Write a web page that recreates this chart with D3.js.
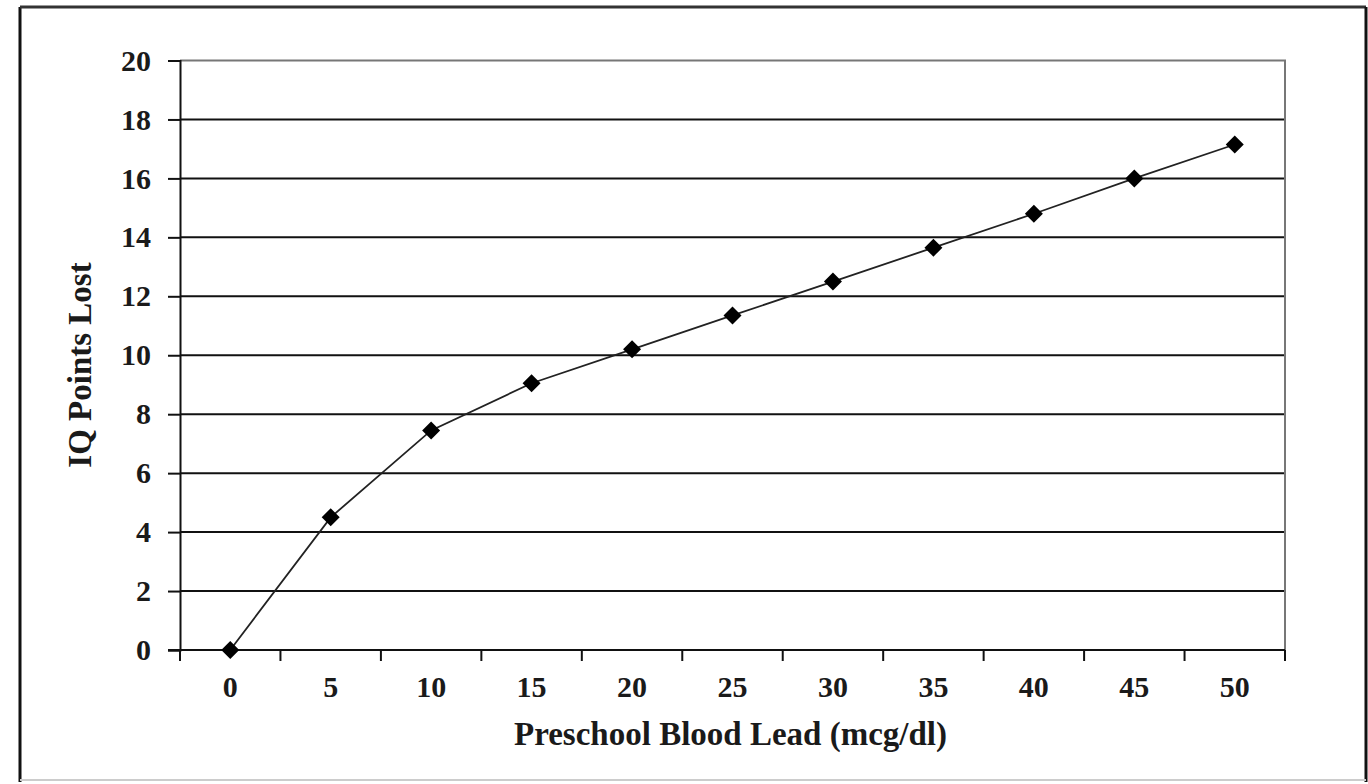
<!DOCTYPE html>
<html>
<head>
<meta charset="utf-8">
<script src="https://cdn.jsdelivr.net/npm/d3@7"></script>
<style>
  body { margin:0; background:#fff; }
  text { font-family:"Liberation Serif","Times New Roman",serif; font-weight:bold; fill:#1a1a1a; }
</style>
</head>
<body>
<div id="chart"></div>
<script>
// data
var leadLevels = ["0","5","10","15","20","25","30","35","40","45","50"];
var iqLost = [0, 4.5, 7.45, 9.05, 10.2, 11.35, 12.5, 13.65, 14.8, 16.0, 17.15];
var yTicks = [0,2,4,6,8,10,12,14,16,18,20];

var W = 1368, H = 784;
var margin = {top:60.5, left:180, right:83, bottom:134};

var svg = d3.select("#chart").append("svg")
	.attr("width", W)
	.attr("height", H);

// outer frame
svg.append("line").attr("x1",20).attr("x2",20).attr("y1",7).attr("y2",782)
	.attr("stroke","#111").attr("stroke-width",3);
svg.append("line").attr("x1",20).attr("x2",1366).attr("y1",7).attr("y2",7)
	.attr("stroke","#333").attr("stroke-width",3);
svg.append("line").attr("x1",1366).attr("x2",1366).attr("y1",7).attr("y2",782)
	.attr("stroke","#111").attr("stroke-width",3);
svg.append("line").attr("x1",20).attr("x2",1366).attr("y1",780).attr("y2",780)
	.attr("stroke","#ccc").attr("stroke-width",2);

var x = d3.scaleBand()
	.domain(leadLevels)
	.range([margin.left, W - margin.right])
	.padding(0);

var y = d3.scaleLinear()
	.domain([0, 20])
	.range([H - margin.bottom, margin.top]);

var x0 = margin.left, x1 = W - margin.right;

// gridlines
svg.append("g").selectAll("line")
	.data(yTicks.filter(function(d){ return d > 0 && d < 20; }))
	.enter().append("line")
	.attr("x1", x0).attr("x2", x1)
	.attr("y1", function(d){ return y(d); })
	.attr("y2", function(d){ return y(d); })
	.attr("stroke", "#111")
	.attr("stroke-width", 2);

// plot border top / right (grey)
svg.append("path")
	.attr("d", "M" + x0 + "," + y(20) + "H" + x1 + "V" + y(0))
	.attr("fill", "none")
	.attr("stroke", "#777")
	.attr("stroke-width", 2);

// y axis
var yAxis = svg.append("g")
	.attr("transform", "translate(" + x0 + ",0)")
	.call(d3.axisLeft(y).tickValues(yTicks).tickSize(12).tickPadding(17));
yAxis.selectAll("line").attr("stroke","#111").attr("stroke-width",2);
yAxis.select(".domain").attr("stroke","#111").attr("stroke-width",2);
yAxis.selectAll("text").attr("font-size", 30).attr("font-family", null).attr("fill", "#1a1a1a");

// x axis: labels centred in bands, ticks on band edges
var xAxis = svg.append("g")
	.attr("transform", "translate(0," + y(0) + ")")
	.call(d3.axisBottom(x).tickSize(0).tickPadding(26));
xAxis.select(".domain").remove();
xAxis.selectAll("text").attr("font-size", 30).attr("font-family", null).attr("fill", "#1a1a1a");

svg.append("line")
	.attr("x1", x0 - 12).attr("x2", x1)
	.attr("y1", y(0)).attr("y2", y(0))
	.attr("stroke", "#111").attr("stroke-width", 2);

var edges = leadLevels.map(function(d){ return x(d); }).concat([x1]);
svg.append("g").selectAll("line")
	.data(edges)
	.enter().append("line")
	.attr("x1", function(d){ return d; })
	.attr("x2", function(d){ return d; })
	.attr("y1", y(0))
	.attr("y2", y(0) + 11)
	.attr("stroke", "#111")
	.attr("stroke-width", 2);

// series line
var pts = leadLevels.map(function(d, i){ return [d, iqLost[i]]; });
svg.append("path")
	.datum(pts)
	.attr("fill", "none")
	.attr("stroke", "#222")
	.attr("stroke-width", 1.8)
	.attr("d", d3.line()
		.x(function(d){ return x(d[0]) + x.bandwidth()/2; })
		.y(function(d){ return y(d[1]); }));

// diamond markers
svg.append("g").selectAll("path")
	.data(pts)
	.enter().append("path")
	.attr("transform", function(d){ return "translate(" + (x(d[0]) + x.bandwidth()/2) + "," + y(d[1]) + ")"; })
	.attr("d", "M0,-9L9,0L0,9L-9,0Z")
	.attr("fill", "#000");

// axis titles
svg.append("text")
	.attr("x", (x0 + x1) / 2 - 2)
	.attr("y", 745)
	.attr("text-anchor", "middle")
	.attr("font-size", 33)
	.text("Preschool Blood Lead (mcg/dl)");

svg.append("text")
	.attr("transform", "translate(91,365) rotate(-90)")
	.attr("text-anchor", "middle")
	.attr("font-size", 33)
	.text("IQ Points Lost");
</script>
</body>
</html>
